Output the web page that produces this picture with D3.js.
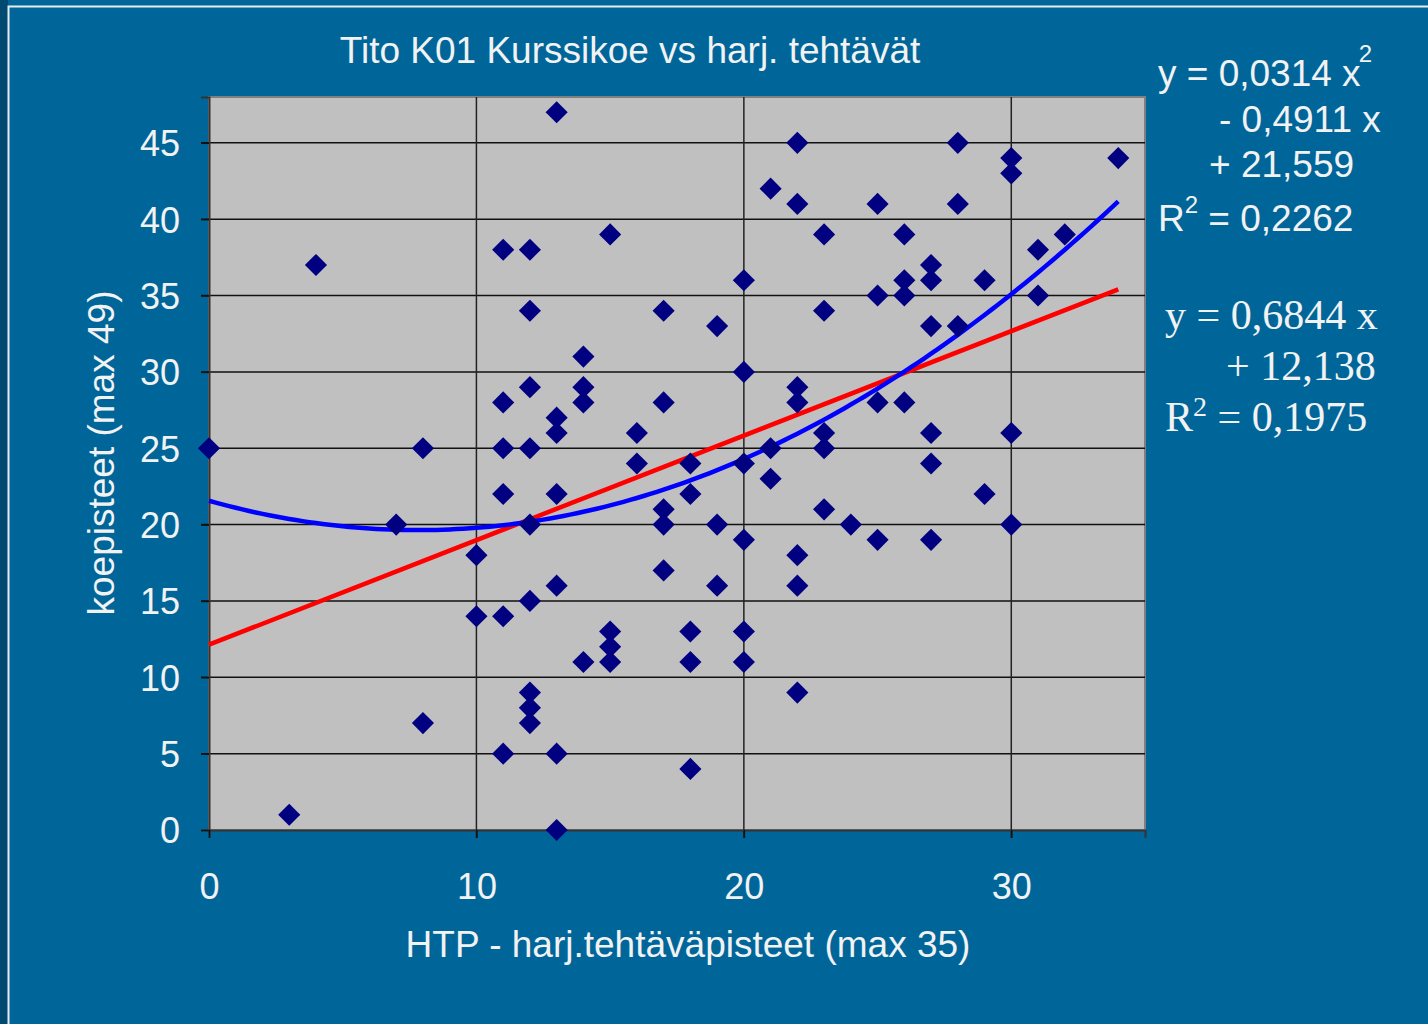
<!DOCTYPE html>
<html>
<head>
<meta charset="utf-8">
<script src="https://cdn.jsdelivr.net/npm/d3@7"></script>
<style>
    body { margin: 0; background: #00669a; }
    svg text { font-family: "Liberation Sans", Arial, sans-serif; fill: #f2f2f2; }
    .serif { font-family: "Liberation Serif", "Times New Roman", serif; }
</style>
</head>
<body>
<svg width="1428" height="1024"></svg>
<script>
// HTP points (x) and exam points (y), one entry per student
const htp = [
    0, 3, 4, 7, 8, 8, 10, 10,
    11, 11, 11, 11, 11, 11,
    12, 12, 12, 12, 12, 12, 12, 12, 12,
    13, 13, 13, 13, 13, 13, 13,
    14, 14, 14, 14,
    15, 15, 15, 15,
    16, 16,
    17, 17, 17, 17, 17,
    18, 18, 18, 18, 18,
    19, 19, 19,
    20, 20, 20, 20, 20, 20,
    21, 21, 21,
    22, 22, 22, 22, 22, 22, 22,
    23, 23, 23, 23, 23,
    24,
    25, 25, 25, 25,
    26, 26, 26, 26,
    27, 27, 27, 27, 27, 27,
    28, 28, 28,
    29, 29,
    30, 30, 30, 30,
    31, 31, 32, 34
]
const koe = [
    25, 1, 37, 20, 25, 7, 18, 14,
    38, 28, 25, 22, 14, 5,
    38, 34, 29, 25, 20, 15, 9, 8, 7,
    47, 27, 26, 22, 16, 5, 0,
    31, 29, 28, 11,
    39, 13, 12, 11,
    26, 24,
    34, 28, 21, 20, 17,
    24, 22, 13, 11, 4,
    33, 20, 16,
    36, 30, 24, 19, 13, 11,
    42, 25, 23,
    45, 41, 29, 28, 18, 16, 9,
    39, 34, 26, 25, 21,
    20,
    41, 35, 28, 19,
    39, 36, 35, 28,
    37, 36, 33, 26, 24, 19,
    45, 41, 33,
    36, 22,
    44, 43, 26, 20,
    38, 35, 39, 44
]

// trendline coefficients as printed on the chart
const poly_coef = [21.559, -0.4911, 0.0314]
const lin_coef = [12.138, 0.6844]
const trend_range = [0, 34]

const x_ticks = [0, 10, 20, 30]
const y_ticks = [0, 5, 10, 15, 20, 25, 30, 35, 40, 45]

const poly_lines = [
    {text: "y = 0,0314 x", sup: "2", x: 1158, y: 86},
    {text: "- 0,4911 x", x: 1219, y: 132},
    {text: "+ 21,559", x: 1209, y: 177},
]
const lin_lines = [
    {text: "y = 0,6844 x", x: 1165, y: 329},
    {text: "+ 12,138", x: 1226, y: 380},
]

const svg = d3.select("svg")
const plot = {left: 209, right: 1145, top: 97, bottom: 830}

// slide frame
svg.append("rect").attr("width", 1428).attr("height", 1024).attr("fill", "#00669a")
svg.append("rect").attr("width", 8).attr("height", 1024).attr("fill", "#004a72")
svg.append("path")
    .attr("d", "M8.5,1024 V6.5 H1428")
    .attr("fill", "none")
    .attr("stroke", "#e8ecf0")
    .attr("stroke-width", 2)

const x = d3.scaleLinear().domain([0, 35]).range([plot.left, plot.right])
const y = d3.scaleLinear().domain([0, 48]).range([plot.bottom, plot.top])

svg.append("rect")
    .attr("x", plot.left).attr("y", plot.top)
    .attr("width", plot.right - plot.left).attr("height", plot.bottom - plot.top)
    .attr("fill", "#c0c0c0")
    .attr("stroke", "#808080")
    .attr("stroke-width", 2)

// grid
svg.append("g").selectAll("line")
    .data(y_ticks.filter(d => d > 0))
    .join("line")
    .attr("x1", plot.left - 8).attr("x2", plot.right)
    .attr("y1", d => y(d)).attr("y2", d => y(d))
    .attr("stroke", "#111").attr("stroke-width", 1.5)

svg.append("g").selectAll("line")
    .data(x_ticks.filter(d => d > 0))
    .join("line")
    .attr("x1", d => x(d)).attr("x2", d => x(d))
    .attr("y1", plot.top).attr("y2", plot.bottom + 8)
    .attr("stroke", "#222").attr("stroke-width", 1.5)

// axes
const y_axis = svg.append("g")
    .attr("transform", `translate(${plot.left},0)`)
    .call(d3.axisLeft(y).tickValues(y_ticks).tickSize(8).tickPadding(21))
const x_axis = svg.append("g")
    .attr("transform", `translate(0,${plot.bottom})`)
    .call(d3.axisBottom(x).tickValues(x_ticks).tickSize(8).tickPadding(35))

for (const ax of [x_axis, y_axis]) {
    ax.select(".domain").attr("stroke", "#333").attr("stroke-width", 2)
    ax.selectAll(".tick line").attr("stroke", "#111").attr("stroke-width", 1.5)
    ax.selectAll(".tick text")
        .attr("fill", "#f2f2f2")
        .style("font-family", "'Liberation Sans', Arial, sans-serif")
        .style("font-size", "36px")
}
y_axis.selectAll(".tick text").attr("dy", "0.36em")

// trendlines
const xs = d3.range(trend_range[0], trend_range[1] + 0.001, 0.25)
const poly = c => v => c.reduce((s, k, i) => s + k * Math.pow(v, i), 0)
const line = d3.line().x(d => x(d[0])).y(d => y(d[1]))

svg.append("path")
    .datum(trend_range.map(v => [v, poly(lin_coef)(v)]))
    .attr("d", line)
    .attr("fill", "none").attr("stroke", "#ff0000").attr("stroke-width", 4.5)

svg.append("path")
    .datum(xs.map(v => [v, poly(poly_coef)(v)]))
    .attr("d", line)
    .attr("fill", "none").attr("stroke", "#0000ff").attr("stroke-width", 4.5)

// points, drawn as squares turned 45 degrees
svg.append("g").selectAll("path")
    .data(d3.zip(htp, koe))
    .join("path")
    .attr("d", d3.symbol().type(d3.symbolSquare).size(245))
    .attr("transform", d => `translate(${x(d[0])},${y(d[1])}) rotate(45)`)
    .attr("fill", "#000080")

// titles
svg.append("text")
    .attr("x", 630).attr("y", 63)
    .attr("text-anchor", "middle")
    .style("font-size", "37px")
    .text("Tito K01 Kurssikoe vs harj. tehtävät")

svg.append("text")
    .attr("x", 688).attr("y", 957)
    .attr("text-anchor", "middle")
    .style("font-size", "37px")
    .text("HTP - harj.tehtäväpisteet (max 35)")

svg.append("text")
    .attr("transform", "translate(114,453) rotate(-90)")
    .attr("text-anchor", "middle")
    .style("font-size", "37px")
    .text("koepisteet (max 49)")

// equation labels
const eq = svg.append("g").style("font-size", "37px")
poly_lines.forEach(d => {
    const t = eq.append("text").attr("x", d.x).attr("y", d.y).text(d.text)
    if (d.sup) t.append("tspan").attr("dx", -2).attr("dy", -24).style("font-size", "24px").text(d.sup)
})
const r1 = eq.append("text").attr("x", 1158).attr("y", 231).text("R")
r1.append("tspan").attr("dy", -18).style("font-size", "24px").text("2")
r1.append("tspan").attr("dy", 18).text(" = 0,2262")

const eq2 = svg.append("g").style("font-size", "42px")
lin_lines.forEach(d => {
    eq2.append("text").attr("class", "serif").attr("x", d.x).attr("y", d.y).text(d.text)
})
const r2 = eq2.append("text").attr("class", "serif").attr("x", 1165).attr("y", 431).text("R")
r2.append("tspan").attr("dy", -15).style("font-size", "28px").text("2")
r2.append("tspan").attr("dy", 15).text(" = 0,1975")
</script>
</body>
</html>
